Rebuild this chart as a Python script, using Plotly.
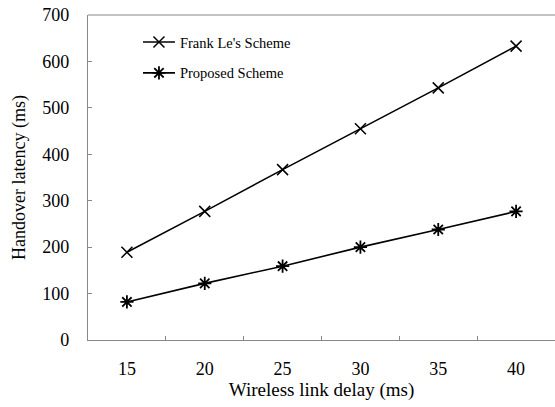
import plotly.graph_objects as go

categories = ["15", "20", "25", "30", "35", "40"]
frank_le = [189, 277, 367, 455, 543, 633]
proposed = [82, 122, 159, 200, 238, 277]
y_ticks = [0, 100, 200, 300, 400, 500, 600, 700]

fig = go.Figure()
fig.add_trace(go.Scatter(
    x=categories, y=frank_le, name="Frank Le's Scheme", mode="lines+markers",
    line=dict(color="black", width=1.6),
    marker=dict(symbol="x-thin-open", size=11, line=dict(color="black", width=1.5)),
    legendgroup="a",
))
fig.add_trace(go.Scatter(
    x=categories, y=proposed, name="Proposed Scheme", mode="lines+markers",
    line=dict(color="black", width=1.6),
    marker=dict(symbol="asterisk-open", size=11, line=dict(color="black", width=1.8)),
    legendgroup="b",
))

fig.update_layout(
    width=555, height=407,
    margin=dict(l=88, r=0, t=15, b=67),
    paper_bgcolor="white", plot_bgcolor="white",
    font=dict(family="Liberation Serif", color="black"),
    showlegend=True,
    legend=dict(
        x=0.107, y=0.966, xanchor="left", yanchor="top",
        bgcolor="rgba(0,0,0,0)", font=dict(size=14.5, family="Liberation Serif"),
        tracegroupgap=9, itemwidth=32,
    ),
    xaxis=dict(
        type="category", range=[-0.5, 5.5], automargin=False,
        showline=True, linecolor="#888", linewidth=1.2, mirror=False,
        ticks="inside", tickson="boundaries", ticklen=4, tickcolor="#888",
        showgrid=False, zeroline=False, ticklabelstandoff=12,
        tickfont=dict(size=18, family="Liberation Serif"),
        title=dict(text="Wireless link delay (ms)", font=dict(size=19, family="Liberation Serif"), standoff=4),
    ),
    yaxis=dict(
        range=[0, 700], tickvals=y_ticks, automargin=False,
        showline=True, linecolor="#888", linewidth=1.2,
        ticks="inside", ticklen=4, tickcolor="#888",
        showgrid=False, zeroline=False, ticklabelstandoff=14,
        ticklabeloverflow="allow",
        tickfont=dict(size=18, family="Liberation Serif"),
        title=dict(text="Handover latency (ms)", font=dict(size=18, family="Liberation Serif"), standoff=11),
    ),
)
# top border line
fig.add_shape(type="line", xref="paper", yref="paper", x0=0, x1=1, y0=1, y1=1,
              line=dict(color="#888", width=1.2))

fig.write_html(
    "out.html",
    config={"displayModeBar": False},
    post_script="document.body.style.margin='0';document.body.style.overflow='hidden';",
)
